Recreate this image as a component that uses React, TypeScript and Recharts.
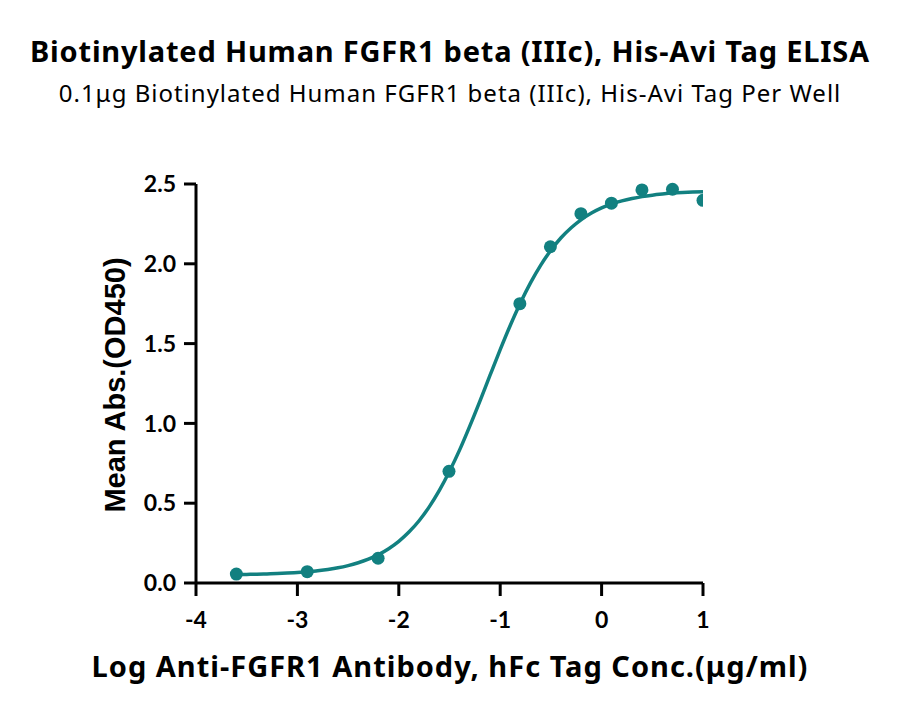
import React from 'react';
import {
  ComposedChart,
  XAxis,
  YAxis,
  Scatter,
  Line,
} from 'recharts';

// measured points: log10 concentration vs mean OD450
const logConc = [-3.602, -2.903, -2.204, -1.505, -0.806, -0.505, -0.204, 0.097, 0.398, 0.699, 1.0];
const meanOD = [0.056, 0.071, 0.155, 0.70, 1.75, 2.107, 2.314, 2.38, 2.463, 2.467, 2.398];

// fitted curve
const curveX = [
  -3.6, -3.5, -3.4, -3.3, -3.2, -3.1, -3.0, -2.9, -2.8, -2.7, -2.6, -2.5, -2.4, -2.3, -2.2, -2.1,
  -2.0, -1.9, -1.8, -1.7, -1.6, -1.5, -1.4, -1.3, -1.2, -1.1, -1.0, -0.9, -0.8, -0.7, -0.6, -0.5,
  -0.4, -0.3, -0.2, -0.1, 0.0, 0.1, 0.2, 0.3, 0.4, 0.5, 0.6, 0.7, 0.8, 0.9, 1.0,
];
const curveY = [
  0.053, 0.054, 0.055, 0.057, 0.059, 0.062, 0.066, 0.07, 0.077, 0.085, 0.095, 0.109, 0.127, 0.149, 0.178, 0.215,
  0.261, 0.319, 0.39, 0.477, 0.58, 0.70, 0.834, 0.983, 1.14, 1.302, 1.462, 1.615, 1.756, 1.882, 1.992, 2.085,
  2.163, 2.226, 2.277, 2.318, 2.35, 2.375, 2.394, 2.409, 2.421, 2.43, 2.437, 2.443, 2.447, 2.45, 2.452,
];

const xTicks = [-4, -3, -2, -1, 0, 1];
const yTicks = [0, 0.5, 1.0, 1.5, 2.0, 2.5];

const title = 'Biotinylated Human FGFR1 beta (IIIc), His-Avi Tag ELISA';
const subtitle = '0.1\u03bcg Biotinylated Human FGFR1 beta (IIIc), His-Avi Tag Per Well';
const xTitle = 'Log Anti-FGFR1 Antibody, hFc Tag Conc.(\u03bcg/ml)';
const yTitle = 'Mean Abs.(OD450)';

const points = logConc.map((x, i) => ({ x, y: meanOD[i] }));
const curve = curveX.map((x, i) => ({ x, y: curveY[i] }));

const TEAL = '#128080';
const tickStyle = { fill: '#000', fontSize: 23, fontWeight: 700, fontFamily: 'Lato, sans-serif' };

export default function App() {
  return (
    <div style={{ position: 'absolute', left: 0, top: 0, width: 900, height: 715, background: '#fff' }}>
      <div
        style={{
          position: 'absolute', left: 0, top: 30.5, width: 900, textAlign: 'center',
          fontFamily: '"Noto Sans", sans-serif', fontWeight: 700, fontSize: 29, letterSpacing: 0.8,
          color: '#000', whiteSpace: 'nowrap',
        }}
      >
        {title}
      </div>
      <div
        style={{
          position: 'absolute', left: 0, top: 76, width: 900, textAlign: 'center',
          fontFamily: '"Noto Sans", sans-serif', fontSize: 24, letterSpacing: 1, color: '#000',
          whiteSpace: 'nowrap',
        }}
      >
        {subtitle}
      </div>
      <ComposedChart
        width={900}
        height={715}
        margin={{ top: 184, right: 197, bottom: 72, left: 96 }}
      >
        <XAxis
          dataKey="x"
          type="number"
          domain={[-4, 1]}
          ticks={xTicks}
          allowDataOverflow
          height={60}
          axisLine={{ stroke: '#000', strokeWidth: 3 }}
          tickLine={{ stroke: '#000', strokeWidth: 3 }}
          tickSize={13}
          tick={tickStyle}
          tickMargin={16}
        />
        <YAxis
          dataKey="y"
          type="number"
          domain={[0, 2.5]}
          ticks={yTicks}
          width={100}
          axisLine={{ stroke: '#000', strokeWidth: 3 }}
          tickLine={{ stroke: '#000', strokeWidth: 3 }}
          tickSize={12}
          tick={tickStyle}
          tickMargin={8}
          tickFormatter={(v: number) => v.toFixed(1)}
        />
        <Line
          data={curve}
          dataKey="y"
          type="monotone"
          stroke={TEAL}
          strokeWidth={3.5}
          dot={false}
          activeDot={false}
          isAnimationActive={false}
        />
        <Scatter
          data={points}
          dataKey="y"
          fill={TEAL}
          shape={(p: any) => <circle cx={p.cx} cy={p.cy} r={6.5} fill={TEAL} />}
          isAnimationActive={false}
        />
      </ComposedChart>
      <div
        style={{
          position: 'absolute', left: 0, top: 646, width: 900, textAlign: 'center',
          fontFamily: '"Noto Sans", sans-serif', fontWeight: 700, fontSize: 29, letterSpacing: 1,
          color: '#000', whiteSpace: 'nowrap',
        }}
      >
        {xTitle}
      </div>
      <div style={{ position: 'absolute', left: 115, top: 385, width: 0, height: 0 }}>
        <div
          style={{
            position: 'absolute', left: 0, top: 0, transform: 'translate(-50%, -50%) rotate(-90deg)',
            whiteSpace: 'nowrap', fontFamily: '"Liberation Sans", Arial, sans-serif', fontWeight: 700,
            fontSize: 29, color: '#000',
          }}
        >
          {yTitle}
        </div>
      </div>
    </div>
  );
}
